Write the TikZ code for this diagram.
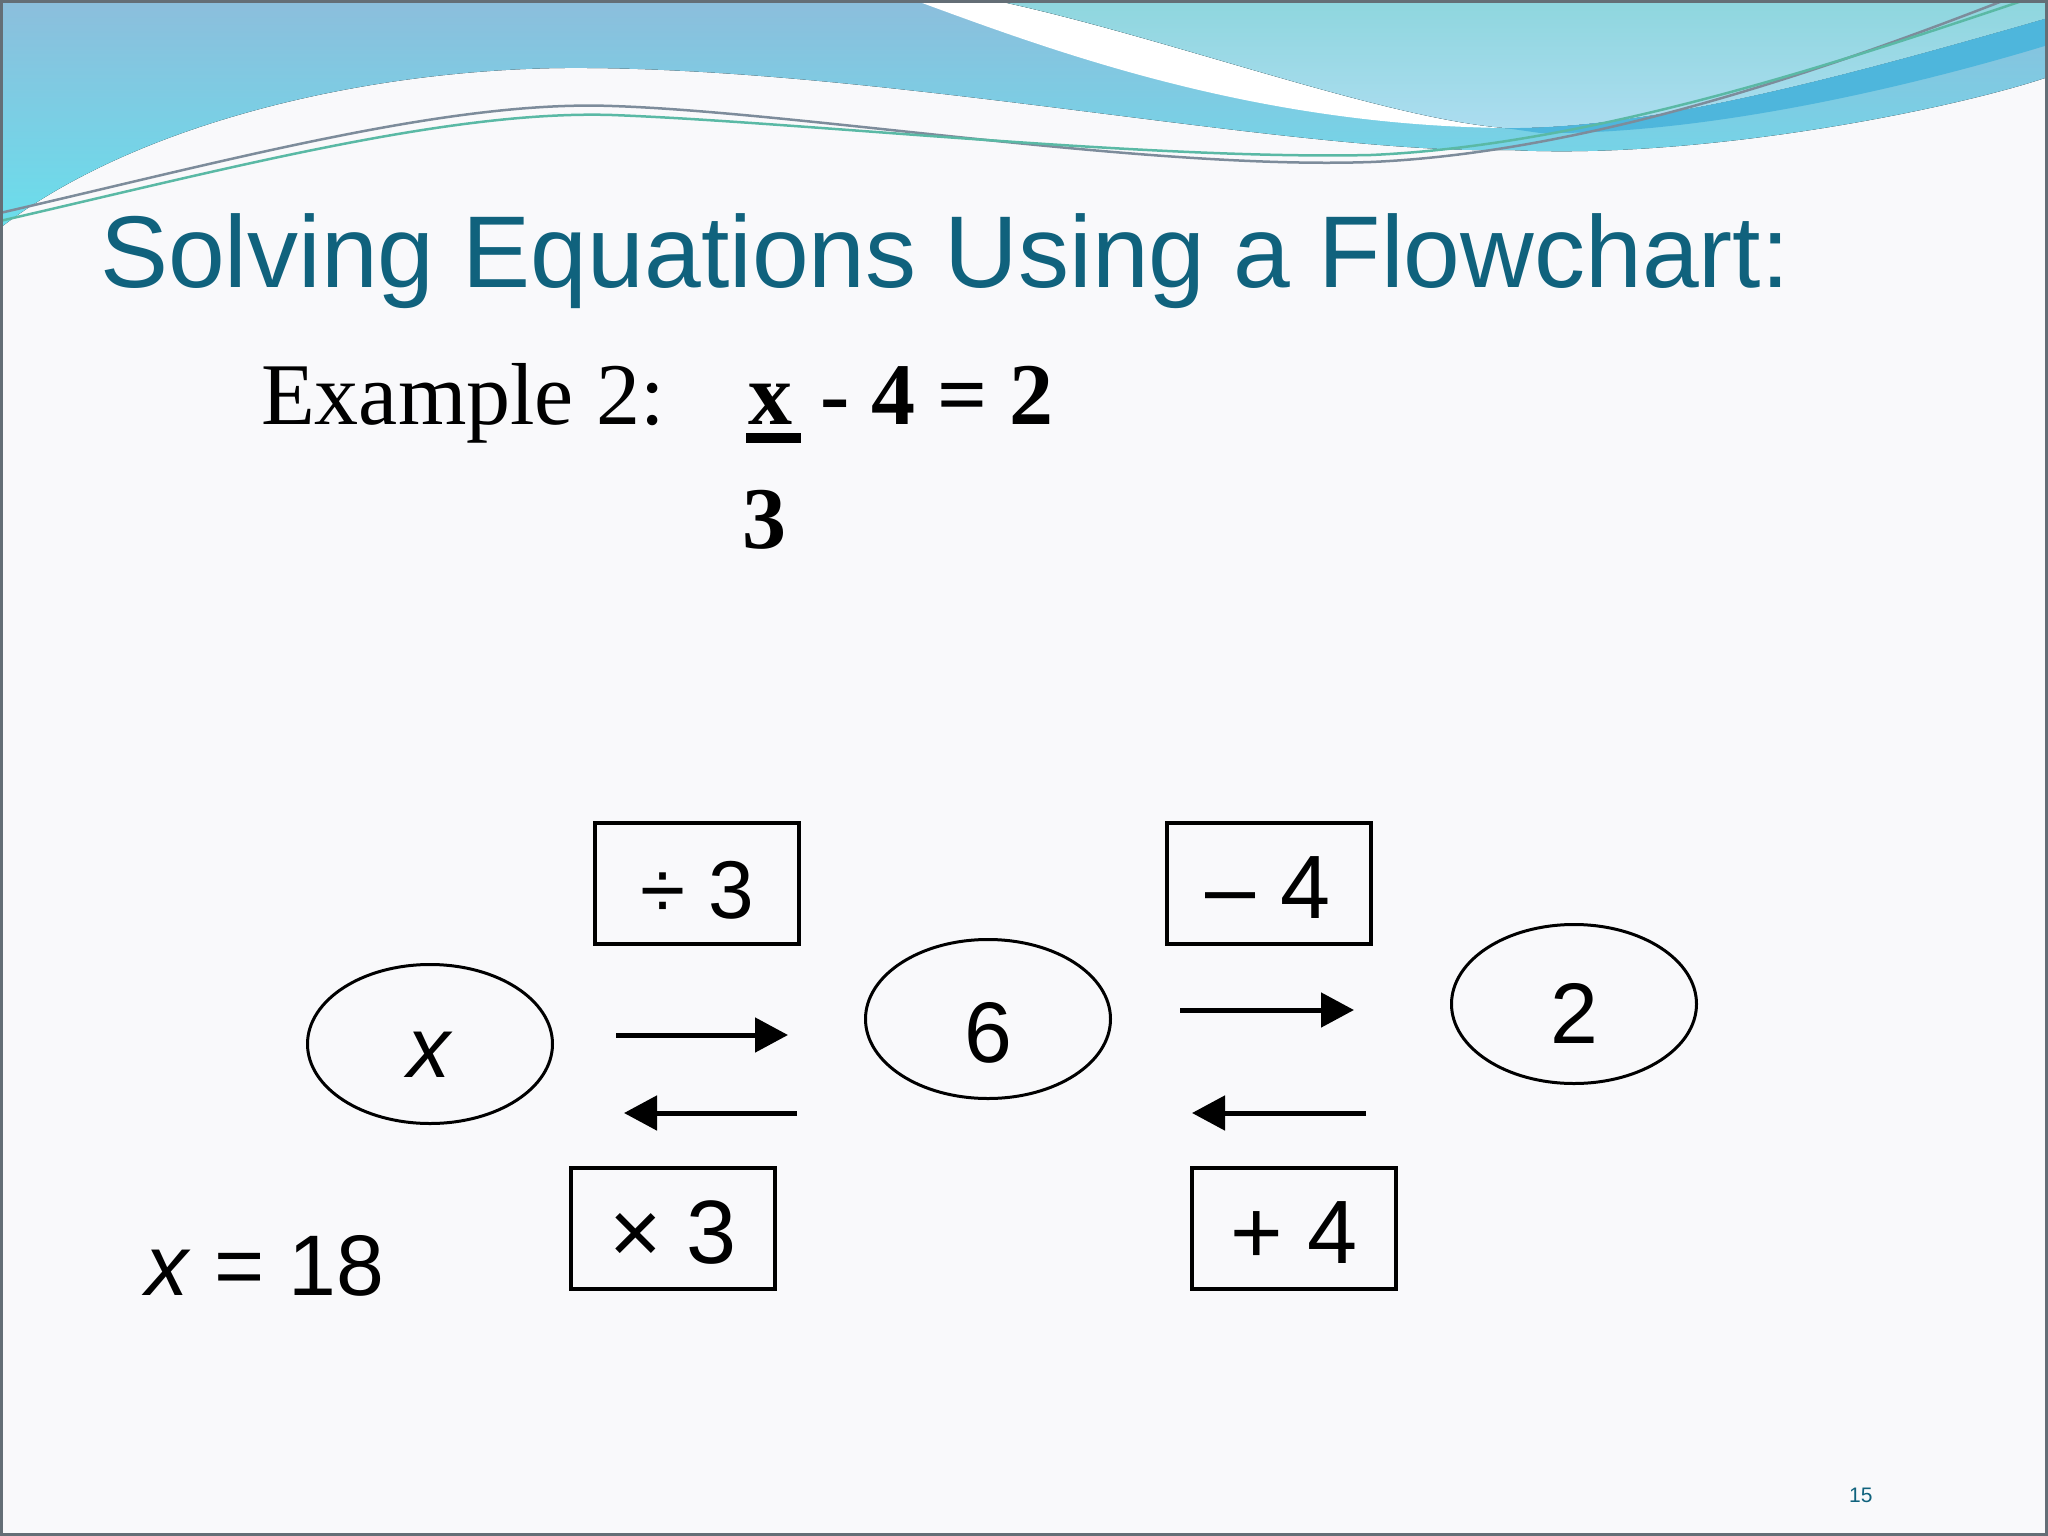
\documentclass[tikz,border=0pt]{standalone}
\usepackage{fontspec}
\setmainfont{Liberation Sans}
\newfontfamily\exserif{Liberation Serif}
\usetikzlibrary{arrows.meta,calc,shapes.geometric}
\definecolor{titleteal}{RGB}{16,98,125}
\definecolor{bandtop}{RGB}{140,190,220}
\definecolor{bandbot}{RGB}{106,222,236}
\definecolor{lighttop}{RGB}{142,214,222}
\definecolor{lightbot}{RGB}{172,221,240}
\definecolor{darkstripe}{RGB}{78,182,220}
\definecolor{bgc}{RGB}{249,249,251}
\definecolor{wavegray}{RGB}{125,140,155}
\definecolor{wavegreen}{RGB}{90,185,165}
\definecolor{framec}{RGB}{100,110,118}
\tikzset{
  oval/.style={ellipse, draw, line width=3pt, minimum width=245pt, minimum height=159pt,
    inner sep=0pt, text depth=0pt, font=\fontsize{86}{90}\selectfont},
  opbox/.style={rectangle, draw, line width=4pt, inner sep=0pt, minimum width=204pt,
    minimum height=121pt, text height=70pt, text depth=0pt},
  flow/.style={line width=5pt, -{Triangle[length=33pt,width=34pt]}},
  wave/.style={line width=2.5pt},
}
\begin{document}
\begin{tikzpicture}[x=1pt,y=-1pt]
\useasboundingbox (0,0) rectangle (2048,1536);
\fill[bgc] (0,0) rectangle (2048,1536);
% top decoration
\fill[top color=bandtop, bottom color=bandbot] (0,0) -- (2048,0) -- (2048,77)
  .. controls (1950,110) and (1700,160) .. (1510,150)
  .. controls (1300,155) and (900,70) .. (587,68)
  .. controls (380,66) and (140,120) .. (0,228) -- cycle;
\fill[white] (914,0) .. controls (1050,50) and (1250,125) .. (1505,128)
  .. controls (1380,118) and (1160,35) .. (993,0) -- cycle;
\fill[top color=lighttop, bottom color=lightbot] (993,0) .. controls (1160,35) and (1380,118) .. (1505,128)
  .. controls (1650,130) and (1850,75) .. (2048,18) -- (2048,0) -- cycle;
\fill[darkstripe] (1505,128) .. controls (1650,130) and (1850,75) .. (2048,18) -- (2048,45)
  .. controls (1900,90) and (1700,135) .. (1540,133) -- cycle;
\draw[wave, wavegray] (0,213) .. controls (230,160) and (450,100) .. (612,106)
  .. controls (800,112) and (1150,170) .. (1371,162)
  .. controls (1600,152) and (1850,60) .. (2005,0);
\draw[wave, wavegreen] (0,221) .. controls (230,168) and (450,110) .. (612,115)
  .. controls (800,122) and (1150,160) .. (1371,155)
  .. controls (1600,145) and (1860,55) .. (2025,0);
% title
\node[anchor=base west, inner sep=0pt, text=titleteal, font=\fontsize{102}{110}\selectfont]
  (title) at (100,287) {Solving Equations Using a Flowchart:};
% example line
\node[anchor=base west, inner sep=0pt, font=\exserif\fontsize{88}{92}\selectfont]
  (exlabel) at (261,424) {Example 2:};
\node[anchor=base west, inner sep=0pt, font=\exserif\bfseries\fontsize{88}{92}\selectfont]
  (exx) at (748,424) {x};
\node[anchor=base west, inner sep=0pt, font=\exserif\bfseries\fontsize{88}{92}\selectfont]
  (exrest) at (820,424) {- 4 = 2};
\draw[line width=10pt] (exx.south west |- 0,438) ++(-2,0) coordinate (ul1) -- ++(55,0) coordinate (ul2);
\node[anchor=base west, inner sep=0pt, font=\exserif\bfseries\fontsize{88}{92}\selectfont]
  (exden) at (742,548) {3};
% flowchart
\node[oval, text height=66pt] (ex) at (430,1044) {\textit{x}};
\node[oval, text height=86pt] (e6) at (988,1019) {6};
\node[oval, text height=78pt] (e2) at (1574,1004) {2};
\node[opbox, font=\fontsize{82}{86}\selectfont] (bdiv) at (697,883.5) {÷ 3};
\node[opbox, font=\fontsize{90}{94}\selectfont] (bsub) at (1268.5,883.5) {– 4};
\node[opbox, font=\fontsize{90}{94}\selectfont] (bmul) at (673,1228) {× 3};
\node[opbox, font=\fontsize{90}{94}\selectfont] (badd) at (1294,1228) {+ 4};
\draw[flow] ($(ex.east)+(62,-9)$) -- ($(e6.west)+(-76,16)$);
\draw[flow] ($(e6.west)+(-67,94)$) -- ($(ex.east)+(70,69)$);
\draw[flow] ($(e6.east)+(68,-9)$) -- ($(e2.west)+(-96,6)$);
\draw[flow] ($(e2.west)+(-84,109)$) -- ($(e6.east)+(80,94)$);
% answer
\node[anchor=base west, inner sep=0pt, font=\fontsize{86}{90}\selectfont]
  (answer) at (145,1295) {\textit{x} = 18};
% page number
\node[anchor=base west, inner sep=0pt, text=titleteal, font=\fontsize{21}{24}\selectfont]
  (pagenum) at (1849,1502) {15};
% frame
\draw[line width=3pt, framec] (1.5,1.5) rectangle (2046.5,1534.5);
\end{tikzpicture}
\end{document}
